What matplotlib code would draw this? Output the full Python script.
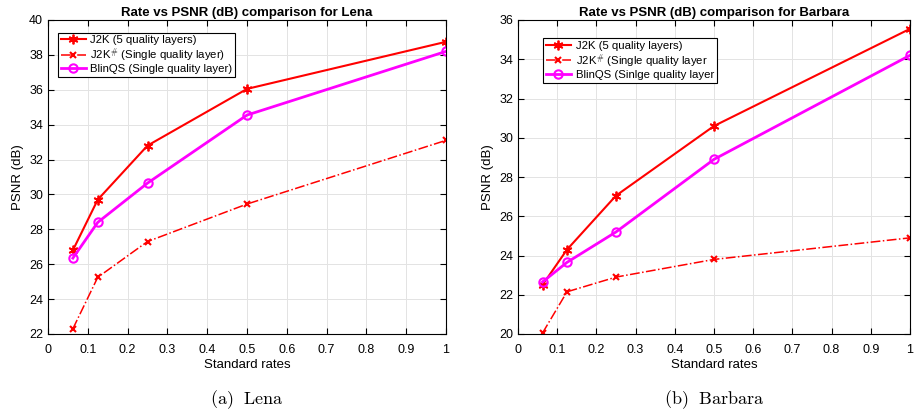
import matplotlib.pyplot as plt

plt.rcParams['font.family'] = ['Liberation Sans Narrow', 'Liberation Sans', 'DejaVu Sans']
plt.rcParams['mathtext.fontset'] = 'cm'

rates = [0.0625, 0.125, 0.25, 0.5, 1.0]

lena_j2k = [26.8, 29.7, 32.8, 36.05, 38.75]
lena_j2k_single = [22.3, 25.25, 27.3, 29.45, 33.1]
lena_blinqs = [26.35, 28.4, 30.65, 34.55, 38.2]

barbara_j2k = [22.5, 24.3, 27.05, 30.6, 35.55]
barbara_j2k_single = [20.05, 22.15, 22.9, 23.8, 24.9]
barbara_blinqs = [22.65, 23.65, 25.2, 28.9, 34.2]

lena_labels = ['J2K (5 quality layers)',
               r'J2K$^{\#}$ (Single quality layer)',
               'BlinQS (Single quality layer)']
barbara_labels = ['J2K (5 quality layers)',
                  r'J2K$^{\#}$ (Single quality layer',
                  'BlinQS (Sinlge quality layer']

fig = plt.figure(figsize=(9.14, 4.12), dpi=100)
W, H = 914, 412
ax1 = fig.add_axes([48 / W, 78 / H, 398 / W, 314 / H])
ax2 = fig.add_axes([518 / W, 78 / H, 392 / W, 314 / H])


def draw(ax, j2k, single, blin, labels, ylim, title, caption, legend_anchor):
    ax.plot(rates, j2k, color='red', marker=(6, 2, 0), markersize=7, mew=1.3, lw=1.5,
            label=labels[0])
    ax.plot(rates, single, color='red', marker='x', markersize=5, mew=1.5, lw=1.1,
            linestyle='-.', label=labels[1])
    ax.plot(rates, blin, color='magenta', marker='o', markersize=6, mfc='none', mew=1.5,
            lw=2, label=labels[2])
    ax.set_xlim(0, 1)
    ax.set_ylim(*ylim)
    ax.set_xticks([i / 10 for i in range(11)])
    ax.set_xticklabels(['0', '0.1', '0.2', '0.3', '0.4', '0.5', '0.6', '0.7', '0.8', '0.9', '1'])
    ax.set_yticks(range(ylim[0], ylim[1] + 1, 2))
    ax.grid(True, color='#e3e3e3', lw=0.7)
    ax.set_axisbelow(True)
    ax.tick_params(direction='in', top=True, right=True, labelsize=9, length=4)
    ax.tick_params(axis='x', pad=7)
    for s in ax.spines.values():
        s.set_linewidth(0.8)
    ax.set_xlabel('Standard rates', fontsize=9.5, labelpad=2)
    ax.set_ylabel('PSNR (dB)', fontsize=9.5)
    ax.set_title(title, fontsize=9.5, fontweight='bold', pad=3)
    leg = ax.legend(loc='upper left', bbox_to_anchor=legend_anchor, fontsize=8.2,
                    fancybox=False, edgecolor='black', framealpha=1, borderaxespad=0,
                    handlelength=2.2, borderpad=0.25, labelspacing=0.1, handletextpad=0.4)
    leg.get_frame().set_linewidth(0.8)
    bb = ax.get_position()
    fig.text((bb.x0 + bb.x1) / 2, 12 / H, caption, ha='center', va='center', fontsize=13)


draw(ax1, lena_j2k, lena_j2k_single, lena_blinqs, lena_labels, (22, 40),
     'Rate vs PSNR (dB) comparison for Lena', r'$\mathrm{(a)\ \ Lena}$', (0.025, 0.96))
draw(ax2, barbara_j2k, barbara_j2k_single, barbara_blinqs, barbara_labels, (20, 36),
     'Rate vs PSNR (dB) comparison for Barbara', r'$\mathrm{(b)\ \ Barbara}$', (0.064, 0.943))

fig.savefig('out.png', dpi=100)
